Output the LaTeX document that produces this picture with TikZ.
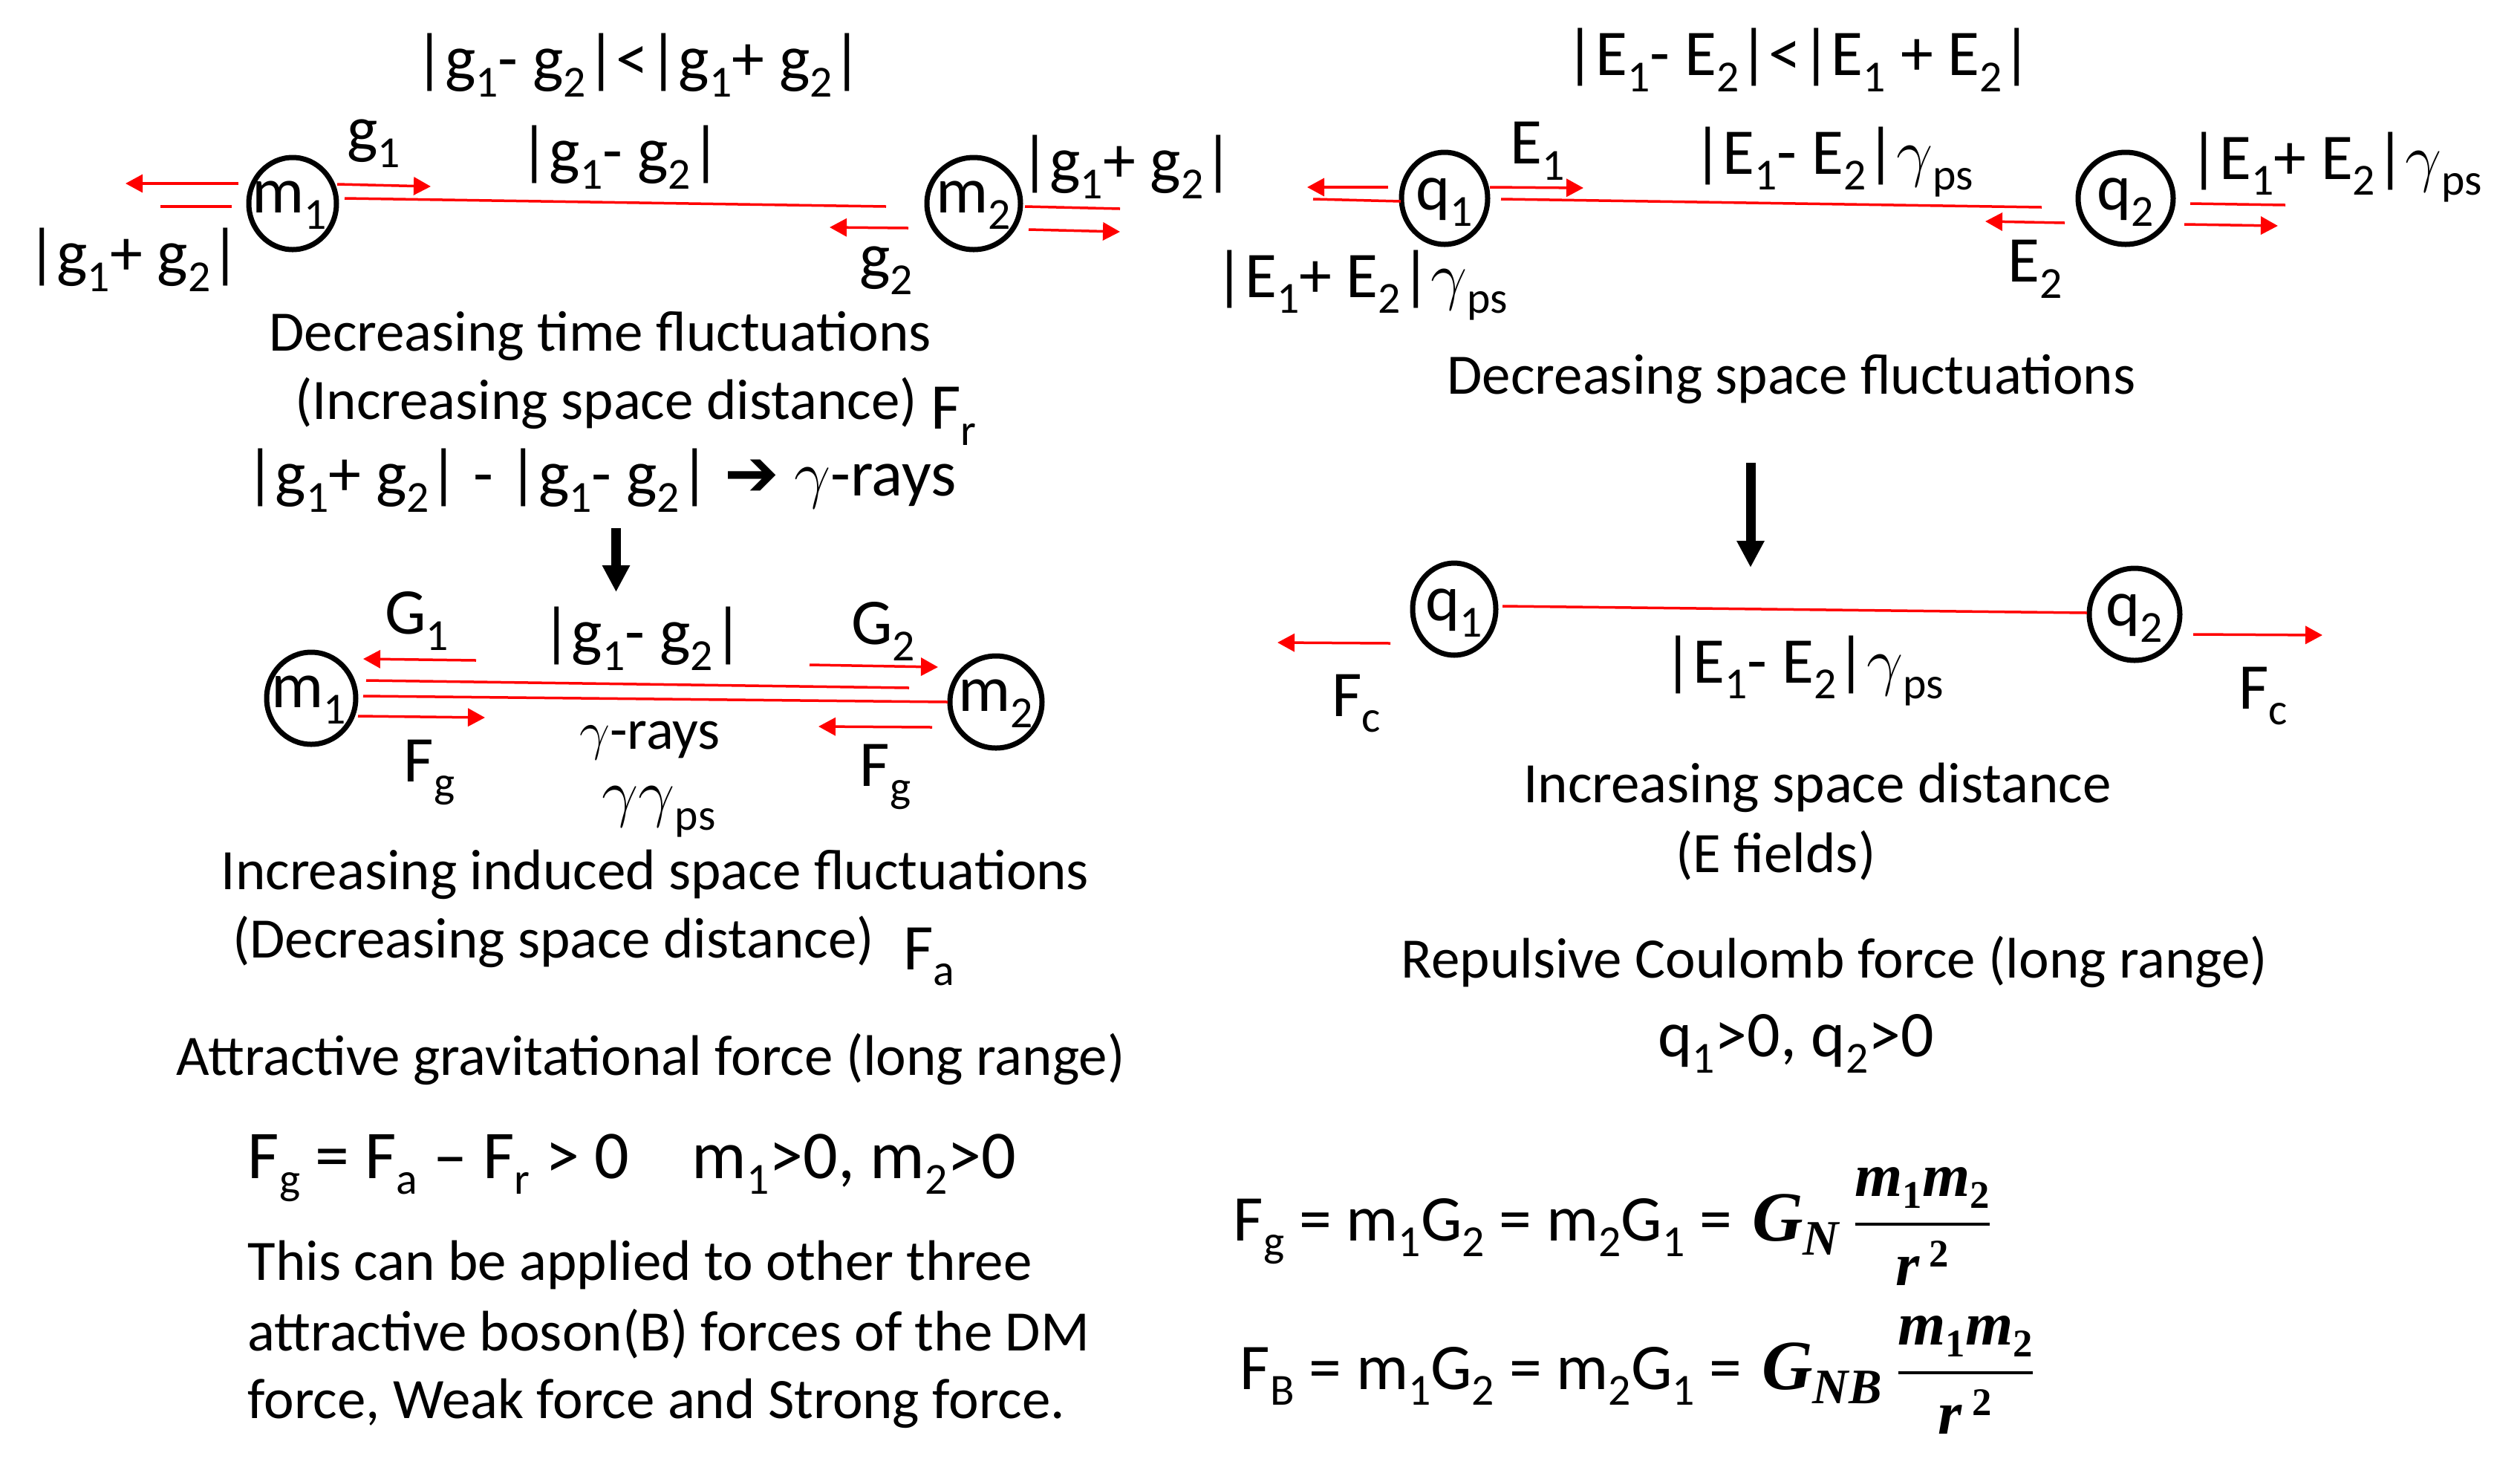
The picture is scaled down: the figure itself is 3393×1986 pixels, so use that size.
\documentclass[tikz,border=0pt]{standalone}
\usepackage{amsmath}
\usepackage{fontspec}
\setmainfont{Carlito}
\newfontfamily\symf{DejaVu Sans}
\newfontfamily\mth{Liberation Serif}
\usetikzlibrary{arrows.meta,shapes.geometric}
\newcommand\dn[1]{\raisebox{-6.2pt}{\fontsize{17}{17}\selectfont #1}}
\newcommand\gps{$\gamma$\dn{ps}}
\newcommand\arr{{\symf ➔}}
% bold italic serif letters for the Newton formulas
\newcommand\mi[1]{{\mth\bfseries\itshape #1}}
\newcommand\msb[1]{\raisebox{-4.5pt}{\fontsize{15}{15}\selectfont\mth\bfseries #1}}
\newcommand\msp[1]{\raisebox{7pt}{\fontsize{15}{15}\selectfont\mth\bfseries #1}}
\newcommand\nfrac{$\dfrac{\hbox{\fontsize{23.5}{23.5}\selectfont\mi{m}\msb1\mi{m}\msb2}}{\hbox{\fontsize{23.5}{23.5}\selectfont\mi{r}\,\msp2}}$}
\tikzset{
  lbl/.style={font=\fontsize{25}{30}\selectfont, inner sep=0pt},
  lbb/.style={font=\fontsize{26.2}{30}\selectfont, inner sep=0pt},
  txt/.style={font=\fontsize{21.9}{26}\selectfont, inner sep=0pt},
  body/.style={draw, ellipse, line width=0.7mm, inner sep=0pt, minimum height=12.4mm},
  rl/.style={red, line width=0.35mm},
  ra/.style={rl, -{Triangle[length=2.3mm,width=2.4mm]}},
  ba/.style={line width=1.3mm, -{Triangle[length=3.6mm,width=3.5mm]}}
}
\begin{document}
\begin{tikzpicture}[x=0.1mm,y=-0.1mm]
\useasboundingbox (0,0) rectangle (3393,1986);

% ===== top left =====
\node[lbl] (tl) at (860,88) {|g\dn1- g\dn2|<|g\dn1+ g\dn2|};
\node[body, minimum width=11.8mm] (m1a) at (394,274) {};
\node[lbl] (m1at) at (390,276) {m\dn1};
\node[body, minimum width=12.6mm] (m2a) at (1311,274) {};
\node[lbl] (m2at) at (1311,276) {m\dn2};
\node[lbl] (g1l) at (503,193) {g\dn1};
\node[lbl] (dtl) at (835,212) {|g\dn1- g\dn2|};
\node[lbl] (str) at (1517,225) {|g\dn1+ g\dn2|};
\node[lbl] (stl) at (180,350) {|g\dn1+ g\dn2|};
\node[lbl] (g2l) at (1193,364) {g\dn2};

\coordinate (a1s) at (321,247); \coordinate (a1e) at (169,247);
\coordinate (a2s) at (216,278); \coordinate (a2e) at (312,278);
\coordinate (a3s) at (454,248); \coordinate (a3e) at (580,251);
\coordinate (a4s) at (464,267); \coordinate (a4e) at (1193,278);
\coordinate (a5s) at (1223,307); \coordinate (a5e) at (1117,306);
\coordinate (a6s) at (1380,278); \coordinate (a6e) at (1508,281);
\coordinate (a7s) at (1385,309); \coordinate (a7e) at (1508,312);
\draw[ra] (a1s) -- (a1e);
\draw[rl] (a2s) -- (a2e);
\draw[ra] (a3s) -- (a3e);
\draw[rl] (a4s) -- (a4e);
\draw[ra] (a5s) -- (a5e);
\draw[rl] (a6s) -- (a6e);
\draw[ra] (a7s) -- (a7e);

% ===== top right =====
\node[lbl] (tr) at (2422,81) {|E\dn1- E\dn2|<|E\dn1 + E\dn2|};
\node[body, minimum width=11.6mm] (q1a) at (1945,267) {};
\node[lbl] (q1at) at (1945,272) {q\dn1};
\node[body, minimum width=12.8mm] (q2a) at (2862,267) {};
\node[lbl] (q2at) at (2862,272) {q\dn2};
\node[lbl] (e1l) at (2070,203) {E\dn1};
\node[lbl] (dtr) at (2468,218) {|E\dn1- E\dn2|\gps};
\node[lbl] (srr) at (3145,225) {|E\dn1+ E\dn2|\gps};
\node[lbl] (srl) at (1833,384) {|E\dn1+ E\dn2|\gps};
\node[lbl] (e2l) at (2740,362) {E\dn2};

\coordinate (b1s) at (1869,252); \coordinate (b1e) at (1760,252);
\coordinate (b2s) at (1768,268); \coordinate (b2e) at (1886,271);
\coordinate (b3s) at (2006,252); \coordinate (b3e) at (2132,253);
\coordinate (b4s) at (2021,268); \coordinate (b4e) at (2749,279);
\coordinate (b5s) at (2780,300); \coordinate (b5e) at (2673,298);
\coordinate (b6s) at (2949,274); \coordinate (b6e) at (3077,276);
\coordinate (b7s) at (2941,302); \coordinate (b7e) at (3067,304);
\draw[ra] (b1s) -- (b1e);
\draw[rl] (b2s) -- (b2e);
\draw[ra] (b3s) -- (b3e);
\draw[rl] (b4s) -- (b4e);
\draw[ra] (b5s) -- (b5e);
\draw[rl] (b6s) -- (b6e);
\draw[ra] (b7s) -- (b7e);

% ===== middle left =====
\node[txt] (dtf) at (808,452) {Decreasing time fluctuations};
\node[txt] (isd) at (816,543) {(Increasing space distance)};
\node[lbl] (fr) at (1284,560) {F\dn{r}};
\node[lbl] (gmg) at (809,647) {|g\dn1+ g\dn2| - |g\dn1- g\dn2| \arr\ $\gamma$-rays};
\coordinate (k1s) at (829.5,711); \coordinate (k1e) at (829.5,797);
\draw[ba] (k1s) -- (k1e);

\node[lbl] (G1) at (561,836) {G\dn1};
\node[lbl] (dml) at (865,860) {|g\dn1- g\dn2|};
\node[lbl] (G2) at (1189,850) {G\dn2};
\node[body, minimum width=12.0mm] (m1b) at (419,940) {};
\node[lbl] (m1bt) at (416,942) {m\dn1};
\node[body, minimum width=12.4mm] (m2b) at (1341,945) {};
\node[lbl] (m2bt) at (1341,947) {m\dn2};
\coordinate (c1s) at (641,889); \coordinate (c1e) at (489,887);
\coordinate (c2s) at (1090,895); \coordinate (c2e) at (1263,898);
\coordinate (c3s) at (493,916); \coordinate (c3e) at (1224,926);
\coordinate (c4s) at (489,937); \coordinate (c4e) at (1276,945);
\coordinate (c5s) at (482,964); \coordinate (c5e) at (653,966);
\coordinate (c6s) at (1255,979); \coordinate (c6e) at (1102,978);
\draw[ra] (c1s) -- (c1e);
\draw[ra] (c2s) -- (c2e);
\draw[rl] (c3s) -- (c3e);
\draw[rl] (c4s) -- (c4e);
\draw[ra] (c5s) -- (c5e);
\draw[ra] (c6s) -- (c6e);
\node[lbl] (fgl) at (578,1040) {F\dn{g}};
\node[lbl] (fgr) at (1192,1046) {F\dn{g}};
\node[txt] (gr) at (875,997) {$\gamma$-rays};
\node[lbl] (ggps) at (887,1093) {$\gamma\gamma$\dn{ps}};

% ===== lower left =====
\node[txt] (iisf) at (882,1177) {Increasing induced space fluctuations};
\node[txt] (dsd) at (745,1268) {(Decreasing space distance)};
\node[lbl] (fa) at (1251,1288) {F\dn{a}};
\node[txt] (agf) at (876,1426) {Attractive gravitational force (long range)};
\node[lbb, anchor=base west] (fgeq) at (333,1586) {F\dn{g} = F\dn{a} – F\dn{r} > 0\hspace{24pt}m\dn1>0, m\dn2>0};
\node[txt, anchor=west] (l1) at (333,1703) {This can be applied to other three};
\node[txt, anchor=west] (l2) at (333,1796) {attractive boson(B) forces of the DM};
\node[txt, anchor=west] (l3) at (333,1889) {force, Weak force and Strong force.};

% ===== middle right =====
\node[txt] (dsf) at (2412,510) {Decreasing space fluctuations};
\coordinate (k2s) at (2357,623); \coordinate (k2e) at (2357,764);
\draw[ba] (k2s) -- (k2e);
\node[body, minimum width=11.2mm] (q1b) at (1958,820) {};
\node[lbl] (q1bt) at (1958,825) {q\dn1};
\node[body, minimum width=12.2mm] (q2b) at (2874,827) {};
\node[lbl] (q2bt) at (2874,832) {q\dn2};
\coordinate (d1s) at (2023,816); \coordinate (d1e) at (2810,825);
\coordinate (d2s) at (1872,866); \coordinate (d2e) at (1720,865);
\coordinate (d3s) at (2953,854); \coordinate (d3e) at (3127,855);
\draw[rl] (d1s) -- (d1e);
\draw[ra] (d2s) -- (d2e);
\draw[ra] (d3s) -- (d3e);
\node[lbl] (fcl) at (1826,947) {F\dn{c}};
\node[lbl] (dbr) at (2428,903) {|E\dn1- E\dn2|\gps};
\node[lbl] (fcr) at (3047,937) {F\dn{c}};
\node[txt] (isd2) at (2447,1060) {Increasing space distance};
\node[txt] (ef) at (2391,1152) {(E fields)};
\node[txt] (rcf) at (2470,1295) {Repulsive Coulomb force (long range)};
\node[lbl] (qq) at (2418,1405) {q\dn1>0, q\dn2>0};

% ===== formulas =====
\node[lbl, anchor=base west] (f1) at (1660,1670) {F\dn{g} = m\dn1G\dn2 = m\dn2G\dn1 = \hspace{2pt}{\fontsize{27}{30}\selectfont\mi{G}}\raisebox{-5.5pt}{\fontsize{19}{19}\selectfont\mi{N}}\hspace{5pt}\nfrac};
\node[lbl, anchor=base west] (f2) at (1669,1870) {F\dn{B} = m\dn1G\dn2 = m\dn2G\dn1 = \hspace{2pt}{\fontsize{27}{30}\selectfont\mi{G}}\raisebox{-5.5pt}{\fontsize{19}{19}\selectfont\mi{NB}}\hspace{5pt}\nfrac};
\end{tikzpicture}
\end{document}
